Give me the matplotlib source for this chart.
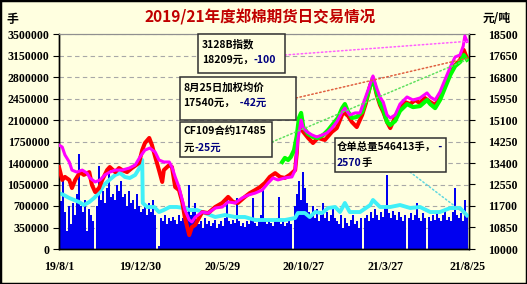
import matplotlib
matplotlib.use('Agg')
import matplotlib.pyplot as plt
import numpy as np
import pandas as pd
from matplotlib.patches import Rectangle

plt.rcParams['font.family'] = ['Noto Sans CJK SC', 'DejaVu Sans']

# ---------------- data ----------------
title = '2019/21年度郑棉期货日交易情况'
start_date = '2019-08-01'
tick_days = [0, 151, 302, 453, 604, 755]
tick_labels = ['19/8/1', '19/12/30', '20/5/29', '20/10/27', '21/3/27', '21/8/25']

# daily volume (10k lots), evenly sampled across the period
volume_10k = [85, 78, 112, 60, 30, 70, 40, 75, 55, 90, 155, 70, 60, 80, 30, 65, 55, 45, 0,
              70, 135, 80, 95, 75, 100, 128, 85, 90, 80, 105, 95, 110, 85, 90, 70, 95, 75, 80, 65,
              90, 70, 60, 65, 70, 55, 75, 60, 80, 55, 0, 5,
              50, 45, 55, 40, 50, 45, 52, 48, 40, 55, 45, 50, 42, 60, 105, 55, 60, 75, 45,
              40, 45, 35, 50, 40, 45, 38, 42, 48, 35, 40, 45, 38, 50, 85, 45, 40, 48, 42, 83,
              45, 38, 42, 36, 45, 40, 50, 83, 42, 38, 45, 55, 100, 45, 40, 48, 42, 38, 45, 50,
              85, 40, 45, 38, 42, 48, 40, 0,
              70, 90, 110, 80, 125, 100, 75,
              60, 55, 70, 50, 65, 45, 55, 75, 50, 60, 45, 55, 65, 50,
              45, 40, 55, 35, 50, 42, 38, 48, 55, 40, 45, 35, 50, 0,
              50, 55, 45, 60, 50, 65, 55, 48, 60, 52, 70, 120, 58, 50, 62, 55, 48, 60, 52, 45,
              55, 0, 50, 58, 48, 55, 75, 50, 45, 58, 50, 0, 52, 45, 55, 48, 60, 50, 45, 55,
              62, 48, 52, 45, 60, 100, 55, 50, 58, 45, 80, 55]

# weighted average price (red), yuan/ton
red_days = [0, 6, 11, 19, 24, 30, 39, 46, 56, 61, 67, 74, 80, 89, 94, 104, 111, 117, 126, 135,
            148, 154, 159, 167, 172, 178, 185, 191, 194, 204, 209, 215, 222, 228, 233, 241, 246,
            252, 257, 265, 276, 289, 302, 313, 322, 331, 344, 353, 363, 372, 381, 390, 400, 409,
            418, 427, 437, 440, 442, 446, 452, 461, 470, 479, 492, 505, 514, 526, 535, 542, 551,
            561, 568, 576, 581, 588, 594, 600, 607, 613, 622, 631, 640, 650, 659, 668, 677, 687,
            696, 705, 714, 724, 733, 742, 749, 755]
red_vals = [13240, 12730, 12850, 12730, 12410, 12730, 13040, 12930, 13040, 12530, 12250, 12410,
            12730, 13120, 13240, 13040, 13200, 13120, 13040, 13200, 13400, 13910, 14190, 14390,
            14110, 13640, 13120, 12650, 13120, 13320, 13240, 12450, 12330, 11860, 11230, 10550,
            10870, 10950, 11150, 11460, 11420, 11660, 11820, 12060, 11860, 11820, 12060, 12210,
            12330, 12450, 12610, 12850, 13000, 12850, 12810, 12930, 13120, 13800, 14590, 14820,
            14630, 14390, 14190, 14390, 14310, 14630, 14780, 15420, 15260, 15020, 14820, 15300,
            15770, 16480, 16760, 16090, 15690, 15420, 15020, 14780, 15220, 15610, 15810, 15730,
            15890, 15770, 15970, 15810, 15690, 16010, 16480, 16960, 17270, 17470, 17870, 17540]

# 3128B index (magenta)
mag_days = [0, 6, 11, 19, 24, 33, 43, 52, 57, 67, 76, 85, 94, 104, 117, 130, 141, 150, 159, 168,
            178, 185, 194, 204, 209, 215, 222, 228, 233, 241, 246, 252, 265, 276, 289, 302, 313,
            326, 339, 350, 363, 376, 387, 396, 405, 418, 431, 437, 442, 448, 452, 459, 468, 477,
            487, 496, 505, 514, 524, 529, 538, 548, 557, 564, 572, 581, 588, 594, 600, 607, 613,
            622, 631, 644, 655, 668, 681, 687, 696, 705, 714, 724, 733, 742, 748, 751, 755]
mag_vals = [14110, 14030, 13720, 13440, 13120, 13040, 13120, 13000, 12810, 12650, 12730, 12930,
            13040, 13120, 13120, 13200, 13320, 13640, 13910, 13990, 13830, 13520, 13440, 13440,
            13240, 12850, 12450, 11940, 11540, 11150, 11070, 11260, 11460, 11420, 11620, 11660,
            11860, 11820, 12020, 12130, 12210, 12330, 12610, 12810, 12730, 12810, 12850, 13120,
            14310, 15100, 14780, 14630, 14510, 14430, 14510, 14590, 14780, 15020, 15420, 15570,
            15300, 15380, 15380, 15810, 16290, 16840, 16360, 16010, 15810, 15300, 15180, 15300,
            15730, 16010, 15890, 15970, 16170, 16010, 15890, 16210, 16680, 17190, 17590, 17670,
            18020, 18420, 18209]

# CF109 contract (green)
grn_days = [413, 418, 424, 429, 435, 440, 444, 448, 452, 461, 470, 479, 489, 498, 507, 516, 524,
            529, 535, 542, 551, 561, 568, 576, 581, 588, 594, 600, 607, 613, 622, 631, 644, 655,
            668, 681, 687, 696, 705, 714, 724, 733, 742, 749, 755]
grn_vals = [13440, 13600, 13520, 13640, 13910, 14470, 15180, 15380, 14820, 14550, 14430, 14390,
            14510, 14700, 14940, 15180, 15570, 15730, 15420, 15180, 15220, 15420, 15890, 16440,
            16720, 16170, 15770, 15500, 15020, 14900, 15060, 15460, 15730, 15610, 15650, 15890,
            15730, 15570, 15890, 16360, 16880, 17230, 17390, 17670, 17485]

# warehouse receipts (cyan), lots
cyan_days = [0, 9, 19, 28, 37, 46, 56, 65, 74, 83, 93, 104, 113, 122, 131, 141, 150, 154, 155,
             163, 176, 185, 194, 205, 218, 231, 242, 255, 270, 289, 307, 326, 344, 363, 381, 400,
             418, 437, 442, 455, 464, 474, 487, 498, 511, 520, 529, 538, 557, 576, 581, 594, 613,
             631, 650, 668, 687, 705, 724, 742, 755]
cyan_vals = [910000, 879000, 830000, 798000, 765000, 716000, 765000, 830000, 912000, 1042000,
             1123000, 1205000, 1237000, 1172000, 1156000, 1205000, 1335000, 1449000, 749000,
             684000, 684000, 602000, 635000, 684000, 684000, 667000, 635000, 635000, 586000,
             521000, 553000, 521000, 521000, 472000, 472000, 472000, 472000, 505000, 586000,
             586000, 521000, 602000, 586000, 667000, 684000, 602000, 749000, 602000, 602000,
             716000, 798000, 684000, 684000, 716000, 667000, 684000, 602000, 602000, 667000,
             667000, 546413]

# ---------------- style ----------------
BG = '#FFFFE0'
W, H = 527, 284
fig = plt.figure(figsize=(W / 100, H / 100), dpi=100)
fig.patch.set_facecolor(BG)

ax = fig.add_axes([59 / W, 35 / H, 410 / W, 215 / H])
ax.set_facecolor(BG)
ax2 = ax.twinx()

span = tick_days[-1]
ax.set_xlim(0, span * 410 / 408)

# bars
vol = np.array(volume_10k) * 10000
bar_x = np.linspace(0, span, len(vol))
bw = bar_x[1] - bar_x[0]
ax.bar(bar_x, vol, width=bw * 1.02, color='#0000F0', linewidth=0, zorder=2)
ax.plot(cyan_days, cyan_vals, color='#40F0F8', lw=2.8, zorder=3, solid_joinstyle='round')

ax.set_ylim(0, 3500000)
lt = np.arange(0, 3500001, 350000)
ax.set_yticks(lt)
tick_font = dict(family='Liberation Serif', weight='bold', size=8.6)
ax.set_yticklabels([str(int(v)) for v in lt], **tick_font)
ax.yaxis.grid(True, linestyle=(0, (4, 3)), color='#A8A8A8', lw=0.8)
ax.set_axisbelow(True)

ax.set_xticks(tick_days)
ax.set_xticklabels(tick_labels, **tick_font)
ax.tick_params(axis='x', direction='in', length=3, pad=9, colors='black')
ax.tick_params(axis='y', direction='out', length=4, pad=3, colors='black')

ax2.plot(red_days, red_vals, color='#FF0000', lw=2.9, zorder=3, solid_joinstyle='round')
ax2.plot(grn_days, grn_vals, color='#00FF00', lw=3.0, zorder=4, solid_joinstyle='round')
ax2.plot(mag_days, mag_vals, color='#FF00FF', lw=2.2, zorder=5, solid_joinstyle='round')
ax2.set_ylim(10000, 18500)
rt = np.arange(10000, 18501, 850)
ax2.set_yticks(rt)
ax2.set_yticklabels([str(int(v)) for v in rt], **tick_font)
ax2.tick_params(axis='y', direction='out', length=4, pad=10, colors='black')

for a in (ax, ax2):
    a.spines['top'].set_color('#909090')
    for s in ('left', 'right', 'bottom'):
        a.spines[s].set_color('black')
        a.spines[s].set_linewidth(1.0)

# ---------------- texts ----------------
def fx(x):
    return x / W

def fy(y):
    return 1 - y / H

fig.text(fx(260), fy(17), title, color='#C00000', fontsize=11.2, weight='bold',
         ha='center', va='center')
fig.text(fx(12), fy(19), '手', fontsize=8.5, weight='bold', ha='center', va='center')
fig.text(fx(497), fy(18), '元/吨', fontsize=8.5, weight='bold', ha='center', va='center')

renderer = fig.canvas.get_renderer()
NAVY = '#000080'
box_fs = 7.5

def chain(x, y, parts):
    for txt, col in parts:
        t = fig.text(fx(x), fy(y), txt, color=col, fontsize=box_fs, weight='bold',
                     ha='left', va='center', zorder=12)
        bb = t.get_window_extent(renderer)
        x = bb.x1

def box(x0, y0, x1, y1):
    fig.patches.append(Rectangle((fx(x0), fy(y1)), (x1 - x0) / W, (y1 - y0) / H,
                                 transform=fig.transFigure, facecolor=BG,
                                 edgecolor='#303030', lw=1.1, zorder=10))

box(198, 34, 285, 73)
chain(202, 44, [('3128B指数', 'black')])
chain(202, 60, [('18209元，', 'black'), ('-100', NAVY)])

box(180, 77, 296, 120)
chain(183, 88, [('8月25日加权均价', 'black')])
chain(183, 103, [('17540元，', 'black'), ('  -42元', NAVY)])

box(180, 122, 272, 157)
chain(184, 131, [('CF109合约17485', 'black')])
chain(184, 148, [('元', 'black'), ('-25元', NAVY)])

box(335, 138, 446, 172)
chain(337, 147, [('仓单总量546413手，', 'black'), (' -', NAVY)])
chain(337, 163, [('2570', NAVY), ('手', 'black')])

# leader lines from boxes to last points
def leader(axis, xy, xytext, color):
    axis.annotate('', xy=xy, xycoords='data', xytext=(fx(xytext[0]), fy(xytext[1])),
                  textcoords='figure fraction',
                  arrowprops=dict(arrowstyle='-', color=color, linestyle=':', lw=1.1,
                                  shrinkA=0, shrinkB=0), zorder=6)

leader(ax2, (mag_days[-1], mag_vals[-1]), (285, 55), '#FF60FF')
leader(ax2, (red_days[-1], red_vals[-1]), (296, 98), '#E06040')
leader(ax2, (grn_days[-1], grn_vals[-1]), (272, 142), '#60E060')
leader(ax, (cyan_days[-1], cyan_vals[-1]), (410, 172), '#60D8E0')

fig.patches.append(Rectangle((0, 0), 1, 1, transform=fig.transFigure, fill=False,
                             edgecolor='black', lw=2.5, zorder=20))

fig.savefig('out.png', dpi=100, facecolor=BG)
